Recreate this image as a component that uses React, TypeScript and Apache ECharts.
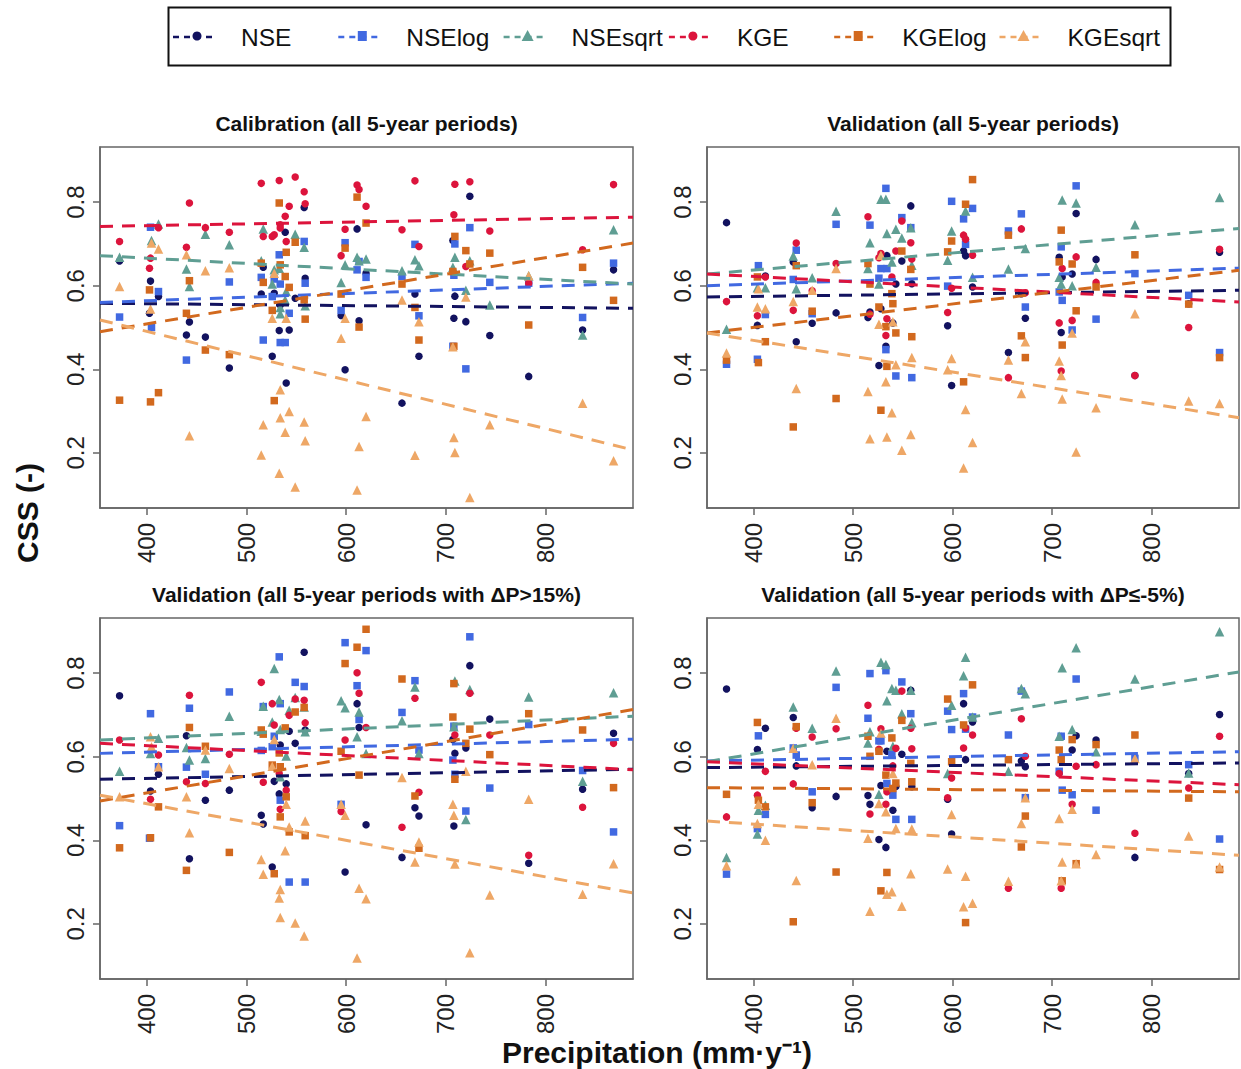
import React, { useEffect, useRef } from "react";
import * as echarts from "echarts";

type Pt = [number, number];

const seriesNames = ["NSE", "NSElog", "NSEsqrt", "KGE", "KGElog", "KGEsqrt"];
const seriesColors = ["#12125f", "#4169e1", "#5f9e93", "#dc143c", "#d2691e", "#eea766"];
const seriesSymbols = ["circle", "rect", "triangle", "circle", "rect", "triangle"];
const symbolSizes = [7.5, 7.5, 9.5, 7.5, 7.5, 9.5];

const xTicks = [400, 500, 600, 700, 800];
const yTicks = [0.2, 0.4, 0.6, 0.8];
const xMin = 353.4;
const xMax = 887.5;
const yMin = 0.068;
const yMax = 0.932;

// Calibration
const calNSE: Pt[] = [[373,.659],[404,.611],[403,.534],[412,.574],[440,.482],[443,.513],[459,.477],[483,.403],[515,.580],[517,.644],[526,.431],[528,.582],[533,.493],[534,.554],[539,.728],[540,.367],[543,.494],[549,.570],[558,.787],[559,.618],[595,.529],[599,.399],[611,.736],[613,.516],[620,.630],[656,.319],[669,.580],[673,.431],[707,.708],[709,.575],[708,.522],[720,.514],[724,.814],[744,.481],[783,.383],[837,.494],[868,.638]];
const calNSElog: Pt[] = [[373,.525],[404,.740],[405,.500],[412,.586],[440,.422],[483,.609],[515,.620],[517,.470],[526,.574],[528,.616],[533,.674],[534,.464],[539,.464],[534,.604],[543,.534],[558,.706],[559,.606],[595,.541],[599,.703],[611,.638],[613,.658],[620,.620],[656,.622],[669,.699],[673,.528],[707,.455],[709,.700],[708,.625],[720,.401],[724,.739],[744,.608],[783,.606],[837,.524],[868,.654]];
const calNSEsqrt: Pt[] = [[373,.668],[405,.708],[412,.748],[440,.640],[443,.598],[459,.723],[483,.698],[515,.660],[517,.736],[526,.604],[528,.638],[533,.642],[534,.533],[534,.548],[539,.566],[540,.586],[549,.723],[558,.692],[559,.552],[595,.608],[599,.650],[611,.668],[613,.660],[620,.664],[656,.636],[669,.662],[673,.648],[707,.644],[709,.668],[720,.589],[724,.660],[744,.554],[783,.624],[837,.482],[868,.734]];
const calKGE: Pt[] = [[373,.706],[404,.666],[403,.642],[412,.739],[440,.692],[443,.798],[459,.739],[483,.728],[515,.845],[517,.718],[526,.718],[528,.722],[533,.852],[534,.746],[534,.738],[539,.766],[540,.706],[543,.790],[549,.860],[558,.825],[559,.796],[595,.672],[599,.735],[611,.841],[613,.830],[620,.790],[656,.734],[669,.851],[673,.694],[708,.770],[709,.843],[720,.646],[724,.849],[744,.731],[783,.606],[837,.686],[868,.842]];
const calKGElog: Pt[] = [[373,.326],[404,.322],[403,.590],[412,.344],[440,.534],[443,.612],[459,.446],[483,.435],[515,.654],[517,.608],[526,.541],[528,.325],[533,.798],[534,.650],[539,.622],[540,.680],[543,.596],[549,.704],[558,.566],[559,.520],[595,.580],[599,.690],[611,.812],[613,.501],[620,.750],[656,.604],[669,.548],[673,.470],[707,.634],[709,.718],[708,.455],[720,.684],[724,.652],[744,.678],[783,.506],[837,.644],[868,.565]];
const calKGEsqrt: Pt[] = [[373,.598],[405,.702],[404,.544],[412,.688],[440,.674],[443,.241],[459,.636],[483,.643],[515,.195],[517,.267],[526,.522],[528,.630],[533,.151],[534,.284],[534,.351],[539,.249],[540,.522],[543,.299],[549,.118],[558,.274],[559,.229],[595,.474],[599,.522],[611,.111],[613,.215],[620,.287],[656,.566],[669,.194],[673,.514],[708,.237],[709,.201],[707,.454],[720,.573],[724,.093],[744,.267],[783,.624],[837,.319],[868,.181]];

// Validation, all periods
const valNSE: Pt[] = [[373,.751],[404,.505],[412,.623],[440,.657],[443,.466],[459,.510],[483,.535],[515,.524],[517,.537],[526,.409],[528,.545],[533,.455],[534,.672],[540,.511],[543,.604],[549,.659],[558,.791],[559,.605],[595,.504],[599,.361],[611,.683],[613,.672],[620,.597],[656,.440],[669,.581],[673,.522],[707,.668],[709,.488],[710,.621],[720,.628],[724,.773],[744,.663],[783,.385],[837,.557],[868,.680]];
const valNSElog: Pt[] = [[373,.412],[404,.424],[405,.648],[412,.531],[440,.615],[443,.685],[459,.533],[483,.747],[517,.745],[526,.618],[528,.641],[533,.833],[534,.641],[533,.447],[543,.384],[549,.763],[558,.739],[559,.380],[595,.599],[599,.802],[611,.760],[613,.699],[620,.785],[656,.731],[669,.772],[673,.549],[707,.585],[709,.693],[710,.565],[720,.494],[724,.839],[744,.520],[783,.629],[837,.577],[868,.440]];
const valNSEsqrt: Pt[] = [[373,.496],[404,.595],[412,.595],[440,.671],[443,.593],[459,.619],[483,.778],[515,.641],[517,.703],[526,.604],[528,.807],[533,.807],[534,.725],[539,.657],[543,.735],[549,.714],[558,.739],[559,.649],[595,.661],[599,.731],[613,.779],[620,.620],[656,.640],[673,.689],[707,.620],[709,.604],[710,.805],[720,.600],[724,.798],[744,.644],[783,.746],[868,.811]];
const valKGE: Pt[] = [[373,.562],[404,.528],[412,.621],[440,.541],[443,.702],[459,.588],[483,.653],[515,.765],[517,.532],[526,.667],[528,.677],[533,.481],[534,.521],[539,.621],[543,.683],[549,.755],[558,.703],[559,.664],[595,.536],[599,.594],[611,.721],[613,.711],[620,.673],[656,.380],[669,.736],[673,.583],[707,.511],[709,.396],[710,.641],[720,.517],[724,.669],[744,.608],[783,.385],[837,.500],[868,.687]];
const valKGElog: Pt[] = [[373,.422],[404,.621],[405,.416],[412,.466],[440,.262],[443,.648],[459,.539],[483,.330],[515,.653],[517,.604],[526,.549],[528,.302],[533,.502],[534,.407],[539,.581],[540,.557],[543,.487],[549,.683],[558,.639],[559,.478],[595,.681],[599,.707],[611,.370],[613,.795],[620,.854],[656,.721],[669,.480],[673,.428],[707,.657],[709,.733],[710,.458],[720,.652],[724,.540],[744,.597],[783,.674],[837,.556],[868,.428]];
const valKGEsqrt: Pt[] = [[373,.439],[404,.549],[405,.593],[412,.545],[440,.562],[443,.354],[459,.589],[483,.641],[515,.347],[517,.234],[526,.508],[528,.673],[533,.370],[534,.238],[539,.296],[540,.514],[543,.411],[549,.206],[558,.244],[559,.428],[595,.399],[599,.426],[611,.164],[613,.304],[620,.225],[656,.422],[669,.342],[673,.466],[707,.420],[709,.385],[710,.329],[720,.487],[724,.202],[744,.308],[783,.533],[837,.324],[868,.318]];

// Validation, wetter periods
const wetNSE: Pt[] = [[373,.746],[404,.518],[412,.558],[440,.650],[443,.356],[459,.496],[483,.520],[515,.460],[517,.439],[526,.336],[528,.541],[533,.511],[534,.628],[540,.535],[543,.661],[549,.632],[558,.850],[559,.664],[599,.324],[611,.727],[613,.670],[620,.437],[656,.359],[669,.478],[673,.458],[707,.641],[708,.434],[709,.608],[720,.621],[724,.818],[744,.690],[783,.345],[837,.522],[868,.656]];
const wetNSElog: Pt[] = [[373,.435],[404,.703],[403,.405],[412,.576],[440,.575],[443,.716],[459,.558],[483,.755],[515,.615],[517,.720],[526,.624],[528,.649],[533,.839],[534,.727],[534,.496],[543,.300],[549,.778],[558,.768],[559,.300],[595,.486],[599,.873],[611,.770],[613,.689],[620,.854],[656,.706],[669,.782],[673,.616],[707,.592],[708,.673],[709,.558],[720,.470],[724,.887],[744,.525],[783,.677],[837,.567],[868,.420]];
const wetNSEsqrt: Pt[] = [[373,.565],[404,.608],[412,.644],[440,.622],[443,.592],[459,.596],[483,.697],[515,.661],[517,.721],[526,.683],[528,.811],[533,.737],[534,.665],[534,.552],[540,.602],[543,.711],[549,.742],[558,.719],[559,.660],[595,.734],[599,.717],[611,.648],[613,.707],[620,.608],[656,.686],[669,.767],[673,.608],[708,.672],[709,.781],[720,.450],[724,.761],[783,.743],[837,.541],[868,.753]];
const wetKGE: Pt[] = [[373,.640],[404,.498],[412,.604],[440,.540],[443,.747],[459,.536],[483,.606],[515,.778],[517,.539],[526,.727],[528,.676],[533,.560],[534,.474],[540,.520],[543,.699],[549,.738],[558,.735],[559,.681],[595,.469],[599,.640],[611,.801],[613,.752],[620,.670],[656,.431],[669,.740],[673,.515],[709,.652],[724,.752],[744,.652],[783,.364],[837,.479],[868,.632]];
const wetKGElog: Pt[] = [[373,.382],[404,.406],[412,.480],[440,.328],[443,.670],[459,.625],[483,.371],[515,.664],[517,.654],[526,.580],[528,.320],[533,.609],[534,.456],[534,.576],[539,.669],[540,.504],[543,.420],[549,.707],[558,.718],[559,.411],[595,.613],[599,.823],[611,.862],[613,.556],[620,.905],[656,.786],[669,.506],[673,.381],[707,.695],[708,.775],[709,.546],[720,.632],[724,.666],[744,.605],[783,.703],[837,.664],[868,.526]];
const wetKGEsqrt: Pt[] = [[373,.504],[404,.648],[405,.624],[412,.576],[440,.504],[443,.418],[459,.616],[483,.572],[515,.354],[517,.319],[526,.577],[528,.641],[533,.262],[534,.215],[534,.282],[539,.375],[540,.486],[543,.432],[549,.202],[558,.171],[559,.446],[595,.486],[599,.460],[611,.118],[613,.285],[620,.260],[656,.550],[669,.348],[673,.396],[707,.486],[708,.460],[709,.343],[720,.565],[724,.131],[744,.269],[783,.498],[837,.271],[868,.344]];

// Validation, drier periods
const dryNSE: Pt[] = [[373,.762],[404,.617],[412,.668],[440,.694],[443,.578],[459,.478],[483,.505],[515,.507],[517,.486],[526,.402],[528,.531],[533,.383],[534,.613],[540,.472],[543,.529],[549,.606],[558,.759],[559,.528],[595,.498],[599,.415],[611,.727],[613,.593],[620,.683],[669,.590],[673,.576],[709,.648],[720,.616],[724,.650],[744,.640],[783,.359],[837,.560],[868,.701]];
const dryNSElog: Pt[] = [[373,.319],[404,.428],[405,.650],[412,.462],[440,.621],[443,.604],[459,.516],[483,.766],[515,.692],[517,.799],[526,.638],[528,.638],[533,.806],[534,.536],[539,.606],[540,.508],[543,.450],[549,.779],[558,.703],[559,.450],[595,.709],[599,.665],[611,.751],[613,.666],[620,.695],[656,.652],[669,.757],[673,.502],[707,.565],[709,.649],[710,.520],[720,.509],[724,.786],[744,.472],[783,.596],[837,.581],[868,.403]];
const dryNSEsqrt: Pt[] = [[373,.359],[404,.415],[405,.472],[412,.484],[440,.719],[459,.668],[483,.805],[515,.633],[517,.660],[526,.510],[528,.826],[533,.821],[534,.734],[539,.763],[540,.625],[543,.759],[549,.703],[558,.759],[559,.682],[595,.560],[599,.723],[611,.794],[613,.838],[620,.695],[656,.565],[669,.763],[673,.751],[707,.649],[710,.813],[720,.665],[724,.861],[744,.612],[783,.786],[837,.561],[868,.899]];
const dryKGE: Pt[] = [[373,.456],[404,.508],[412,.565],[440,.535],[443,.668],[459,.647],[483,.667],[515,.723],[517,.463],[526,.618],[528,.667],[533,.486],[534,.516],[540,.578],[543,.620],[549,.757],[558,.668],[559,.619],[595,.502],[599,.549],[611,.621],[613,.669],[620,.652],[656,.285],[669,.691],[673,.601],[707,.560],[709,.285],[720,.486],[724,.577],[744,.581],[783,.417],[837,.525],[868,.649]];
const dryKGElog: Pt[] = [[373,.510],[404,.682],[405,.496],[412,.480],[440,.205],[443,.672],[459,.490],[483,.324],[515,.649],[517,.601],[526,.613],[528,.279],[533,.556],[534,.323],[539,.645],[540,.524],[543,.537],[549,.687],[558,.584],[559,.540],[595,.738],[599,.588],[611,.676],[613,.203],[620,.772],[656,.593],[669,.384],[673,.458],[707,.616],[709,.593],[710,.303],[720,.641],[724,.344],[744,.629],[783,.652],[837,.501],[868,.330]];
const dryKGEsqrt: Pt[] = [[373,.339],[404,.440],[405,.486],[412,.400],[440,.620],[443,.304],[459,.581],[483,.692],[515,.405],[517,.230],[526,.488],[528,.657],[533,.468],[534,.271],[539,.277],[540,.560],[543,.428],[549,.242],[558,.320],[559,.427],[595,.331],[599,.462],[611,.241],[613,.314],[620,.249],[656,.302],[669,.440],[673,.502],[707,.452],[709,.303],[710,.348],[720,.474],[724,.344],[744,.366],[783,.596],[837,.410],[868,.336]];

// trend lines: value at xMin and at xMax, same order as seriesNames
const calTrends = [[.558,.546],[.560,.606],[.672,.604],[.742,.764],[.490,.702],[.518,.207]];
const valTrends = [[.573,.589],[.600,.642],[.628,.737],[.628,.561],[.487,.637],[.487,.284]];
const wetTrends = [[.546,.570],[.608,.642],[.640,.697],[.632,.569],[.494,.713],[.508,.274]];
const dryTrends = [[.574,.585],[.590,.612],[.588,.803],[.588,.533],[.526,.516],[.446,.364]];

const panelTitles = [
    "Calibration (all 5-year periods)",
    "Validation (all 5-year periods)",
    "Validation (all 5-year periods with ΔP>15%)",
    "Validation (all 5-year periods with ΔP≤-5%)",
];
const panelPoints = [
    [calNSE, calNSElog, calNSEsqrt, calKGE, calKGElog, calKGEsqrt],
    [valNSE, valNSElog, valNSEsqrt, valKGE, valKGElog, valKGEsqrt],
    [wetNSE, wetNSElog, wetNSEsqrt, wetKGE, wetKGElog, wetKGEsqrt],
    [dryNSE, dryNSElog, dryNSEsqrt, dryKGE, dryKGElog, dryKGEsqrt],
];
const panelTrends = [calTrends, valTrends, wetTrends, dryTrends];
const panelBoxes = [
    { left: 100, top: 147, width: 533, height: 361 },
    { left: 707, top: 147, width: 532, height: 361 },
    { left: 100, top: 618, width: 533, height: 361 },
    { left: 707, top: 618, width: 532, height: 361 },
];

const FONT = "Liberation Sans";
const GREY = "#666666";

const legendMarker = (i: number, x: number, y: number) => {
    const style = { fill: seriesColors[i] };
    if (seriesSymbols[i] === "circle") return { type: "circle", shape: { cx: x, cy: y, r: 4.5 }, style };
    if (seriesSymbols[i] === "rect") return { type: "rect", shape: { x: x - 4.5, y: y - 5, width: 9, height: 10 }, style };
    return { type: "polygon", shape: { points: [[x - 6, y + 5], [x + 6, y + 5], [x, y - 6]] }, style };
};

const App: React.FC = () => {
    const chartRef = useRef<HTMLDivElement>(null);

    useEffect(() => {
        const chart = echarts.init(chartRef.current!, undefined, { renderer: "svg" });

        const series: any[] = [];
        panelPoints.forEach((points, p) => {
            points.forEach((data, i) => {
                series.push({
                    name: seriesNames[i],
                    type: "scatter",
                    xAxisIndex: p,
                    yAxisIndex: p,
                    data,
                    symbol: seriesSymbols[i],
                    symbolSize: symbolSizes[i],
                    itemStyle: { color: seriesColors[i], opacity: 1 },
                    z: 2,
                });
            });
            panelTrends[p].forEach((t, i) => {
                series.push({
                    name: seriesNames[i] + " trend",
                    type: "line",
                    xAxisIndex: p,
                    yAxisIndex: p,
                    data: [[xMin, t[0]], [xMax, t[1]]],
                    showSymbol: false,
                    lineStyle: { color: seriesColors[i], width: 3, type: [13, 9] },
                    z: 3,
                });
            });
        });

        const legendItems: any[] = [];
        seriesNames.forEach((name, i) => {
            const x0 = 173 + i * 165.3;
            legendItems.push({
                type: "line",
                shape: { x1: x0, y1: 37, x2: x0 + 41, y2: 37 },
                style: { stroke: seriesColors[i], lineWidth: 2.5, lineDash: [6, 5] },
            });
            legendItems.push(legendMarker(i, x0 + 24, 36));
            legendItems.push({
                type: "text",
                x: 241 + i * 165.3,
                y: 37,
                style: { text: name, fontFamily: FONT, fontSize: 24.5, fill: "#111", verticalAlign: "middle" },
            });
        });

        chart.setOption({
            animation: false,
            backgroundColor: "#ffffff",
            title: panelTitles.map((text, p) => ({
                text,
                left: panelBoxes[p].left + panelBoxes[p].width / 2 - 5,
                top: panelBoxes[p].top - 39.5,
                textAlign: "center",
                textStyle: { fontFamily: FONT, fontSize: 21, fontWeight: "bold", color: "#111" },
            })),
            grid: panelBoxes.map((b) => ({ ...b, show: true, borderColor: GREY, borderWidth: 1.5, containLabel: false })),
            xAxis: panelBoxes.map((_, p) => ({
                type: "value",
                gridIndex: p,
                min: xMin,
                max: xMax,
                splitLine: { show: false },
                axisLine: { show: true, onZero: false, lineStyle: { color: GREY, width: 1.5 } },
                axisTick: { show: true, length: 7, customValues: xTicks, lineStyle: { color: GREY, width: 1.5 } },
                axisLabel: {
                    customValues: xTicks,
                    rotate: 90,
                    margin: 15,
                    fontFamily: FONT,
                    fontSize: 24,
                    color: "#222",
                },
            })),
            yAxis: panelBoxes.map((_, p) => ({
                type: "value",
                gridIndex: p,
                min: yMin,
                max: yMax,
                splitLine: { show: false },
                axisLine: { show: true, onZero: false, lineStyle: { color: GREY, width: 1.5 } },
                axisTick: { show: true, length: 7, customValues: yTicks, lineStyle: { color: GREY, width: 1.5 } },
                axisLabel: {
                    customValues: yTicks,
                    formatter: (v: number) => v.toFixed(1),
                    rotate: 90,
                    margin: 13,
                    fontFamily: FONT,
                    fontSize: 24,
                    color: "#222",
                },
            })),
            graphic: [
                {
                    type: "rect",
                    shape: { x: 168.5, y: 7.5, width: 1002, height: 58 },
                    style: { fill: "#fff", stroke: "#111", lineWidth: 2 },
                },
                ...legendItems,
                {
                    type: "text",
                    x: 27,
                    y: 513,
                    rotation: Math.PI / 2,
                    style: {
                        text: "CSS (-)",
                        fontFamily: FONT,
                        fontSize: 30,
                        fontWeight: "bold",
                        fill: "#111",
                        align: "center",
                        verticalAlign: "middle",
                    },
                },
                {
                    type: "text",
                    x: 657,
                    y: 1052,
                    style: {
                        text: "Precipitation (mm·y⁻¹)",
                        fontFamily: FONT,
                        fontSize: 30,
                        fontWeight: "bold",
                        fill: "#111",
                        align: "center",
                        verticalAlign: "middle",
                    },
                },
            ],
            series,
        });

        return () => {
            chart.dispose();
        };
    }, []);

    return (
        <div
            ref={chartRef}
            style={{ position: "absolute", left: 0, top: 0, width: "1241px", height: "1069px" }}
        />
    );
};

export default App;
